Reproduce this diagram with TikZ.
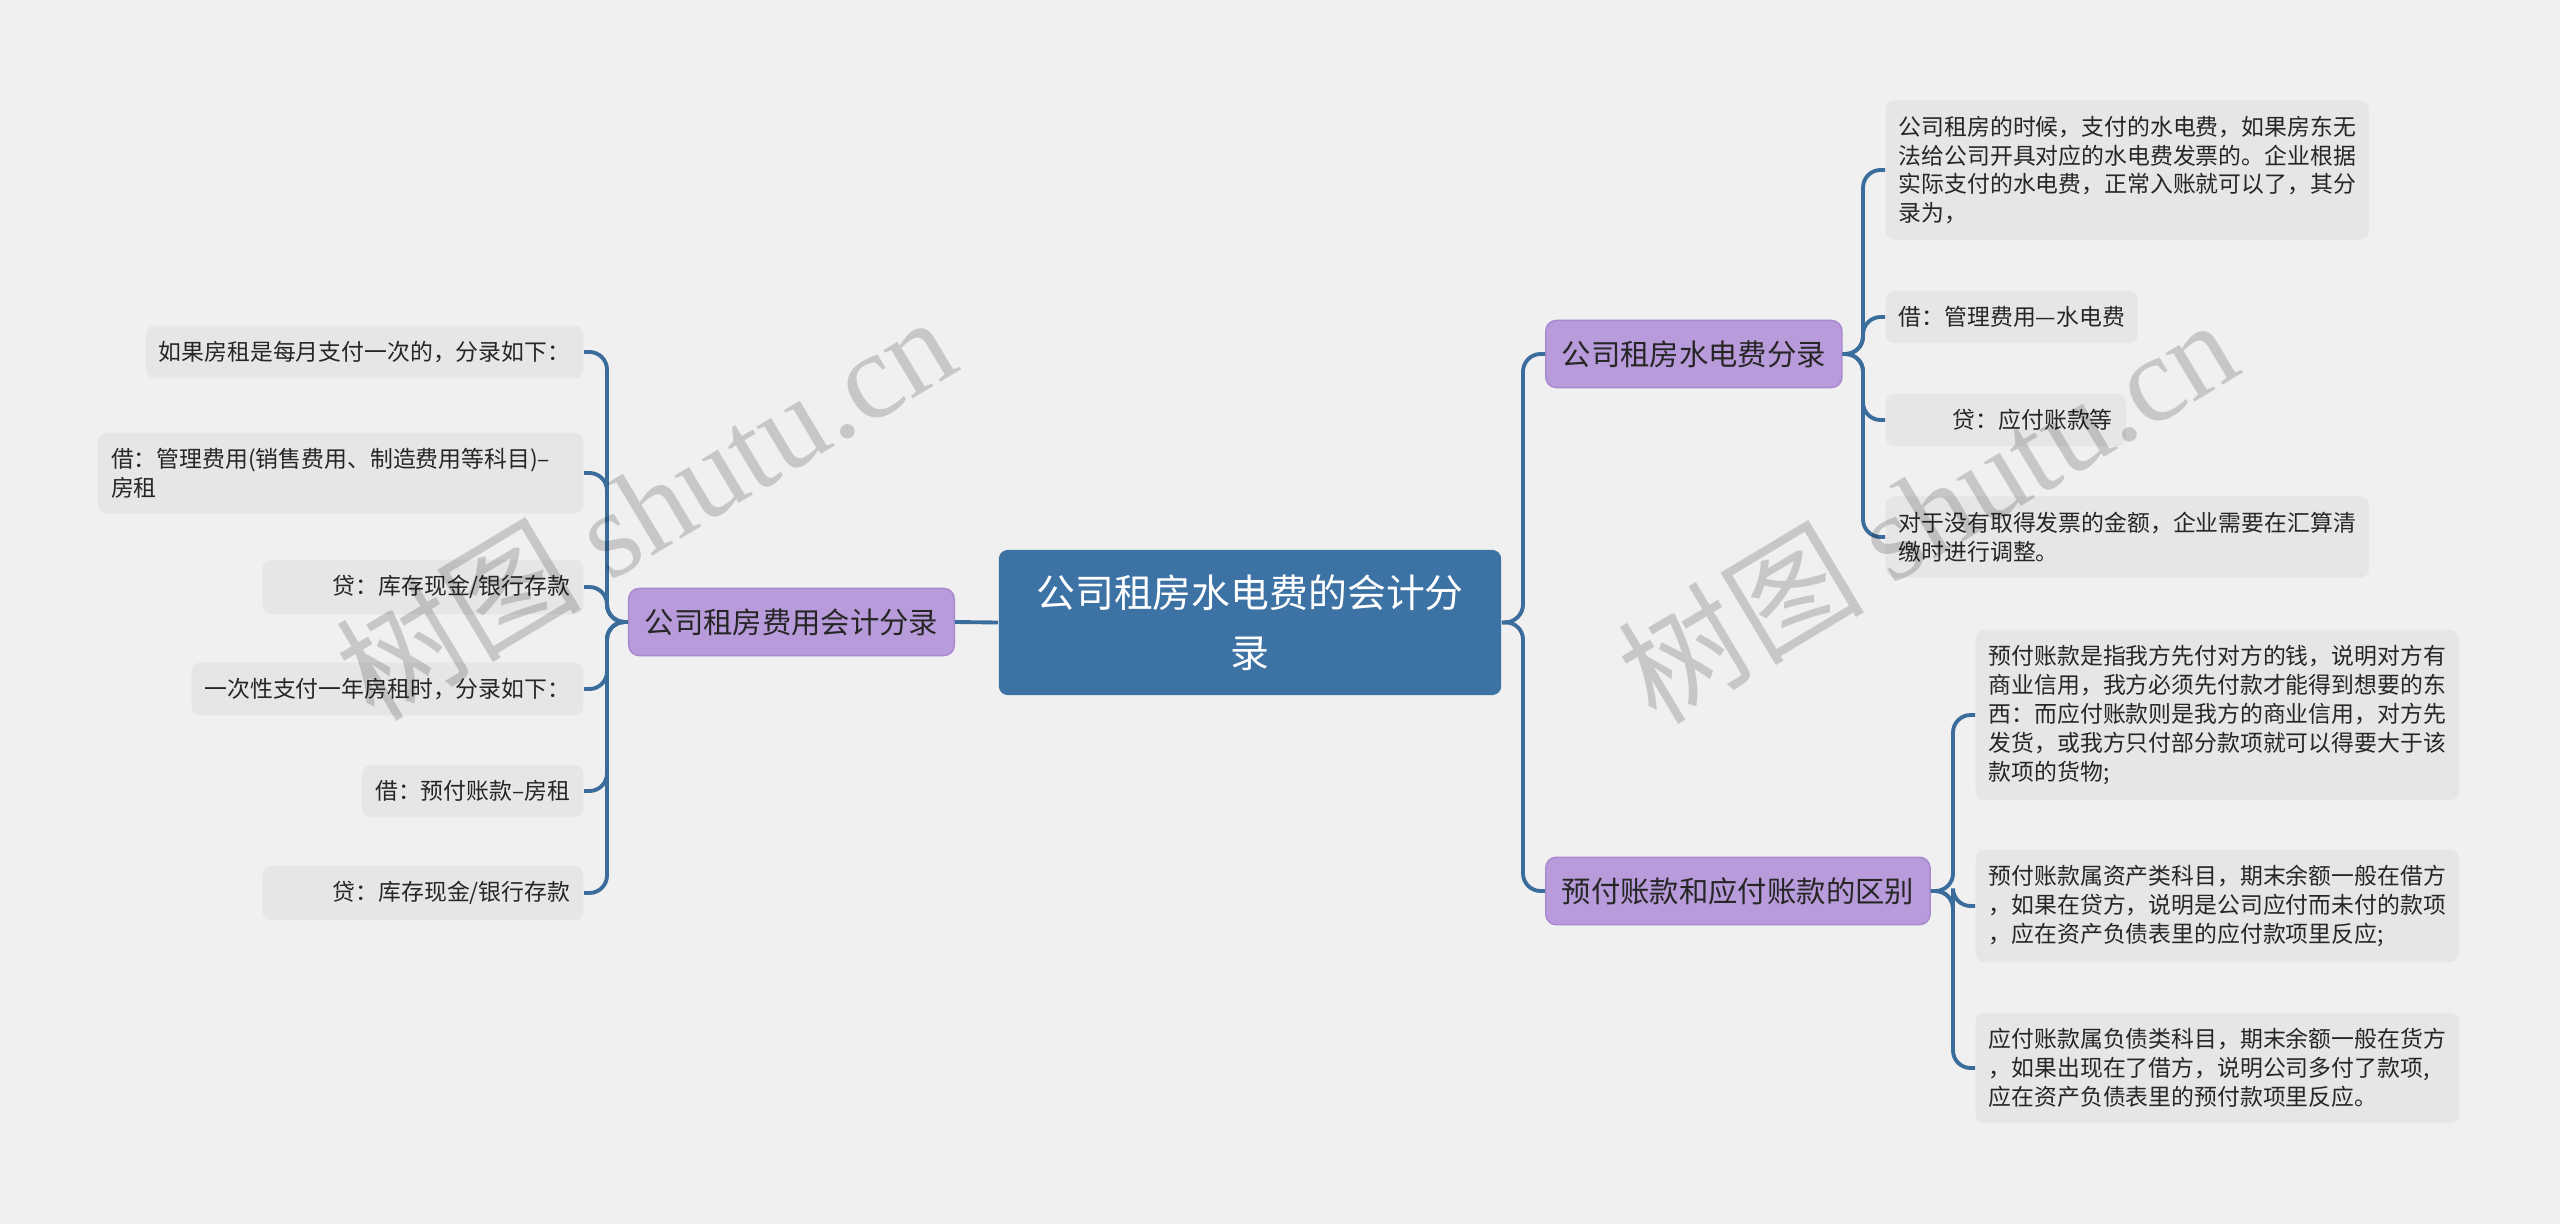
\documentclass[tikz,border=0pt]{standalone}
\usepackage{fontspec}
\setmainfont{Noto Sans CJK SC}
\newfontfamily\wmlatin{Liberation Serif}
\usetikzlibrary{positioning}
\definecolor{bgcol}{HTML}{F0F0F0}
\definecolor{leafcol}{HTML}{E6E6E6}
\definecolor{rootcol}{HTML}{3D72A5}
\definecolor{branchcol}{HTML}{B89BDA}
\definecolor{branchline}{HTML}{A889CF}
\definecolor{linkcol}{HTML}{3B6D9C}
\definecolor{txtcol}{HTML}{262626}

\begin{document}
\begin{tikzpicture}[x=0.01cm,y=-0.01cm,
		leafbox/.style={fill=leafcol,rounded corners=2.5pt,inner xsep=0.13cm,inner ysep=0.155cm,
			align=left,text=txtcol,font=\fontsize{6.5pt}{8.2pt}\selectfont},
		branchbox/.style={fill=branchcol,draw=branchline,line width=0.4pt,rounded corners=3pt,
			inner xsep=0.16cm,inner ysep=0.2cm,text=txtcol,font=\fontsize{8.35pt}{10pt}\selectfont},
		rootbox/.style={fill=rootcol,rounded corners=2.5pt,minimum width=5.02cm,minimum height=1.45cm,
			align=center,text=white,font=\fontsize{11.05pt}{17pt}\selectfont},
		link/.style={draw=linkcol,line width=1.1pt,rounded corners=5pt},
		wmark/.style={text=black,text opacity=0.17,rotate=31,font=\fontsize{35pt}{40pt}\selectfont}]
	\fill[bgcol] (0,0) rectangle (2560,1224);
	\useasboundingbox (0,0) rectangle (2560,1224);

	\node[rootbox] (root) at (1250,622.5) {公司租房水电费的会计分\\录};

	\node[branchbox,anchor=east] (lb) at (955,622) {公司租房费用会计分录};
	\node[branchbox,anchor=west] (rb1) at (1545,354) {公司租房水电费分录};
	\node[branchbox,anchor=west] (rb2) at (1545,891) {预付账款和应付账款的区别};

	\node[leafbox,anchor=east] (l1) at (584,352) {如果房租是每月支付一次的，分录如下：};
	\node[leafbox,anchor=east,text width=4.59cm] (l2) at (584,473) {借：管理费用(销售费用、制造费用等科目)–\\房租};
	\node[leafbox,anchor=east] (l3) at (584,587) {\hspace*{0.57cm}贷：库存现金/银行存款};
	\node[leafbox,anchor=east] (l4) at (584,689) {一次性支付一年房租时，分录如下：};
	\node[leafbox,anchor=east] (l5) at (584,791) {借：预付账款–房租};
	\node[leafbox,anchor=east] (l6) at (584,893) {\hspace*{0.57cm}贷：库存现金/银行存款};

	\node[leafbox,anchor=west] (r1) at (1885,170) {公司租房的时候，支付的水电费，如果房东无\\法给公司开具对应的水电费发票的。企业根据\\实际支付的水电费，正常入账就可以了，其分\\录为，};
	\node[leafbox,anchor=west] (r2) at (1885,317) {借：管理费用—水电费};
	\node[leafbox,anchor=west] (r3) at (1885,420) {\hspace*{0.54cm}贷：应付账款等};
	\node[leafbox,anchor=west] (r4) at (1885,537) {对于没有取得发票的金额，企业需要在汇算清\\缴时进行调整。};

	\node[leafbox,anchor=west] (r5) at (1975,715) {预付账款是指我方先付对方的钱，说明对方有\\商业信用，我方必须先付款才能得到想要的东\\西：而应付账款则是我方的商业信用，对方先\\发货，或我方只付部分款项就可以得要大于该\\款项的货物;};
	\node[leafbox,anchor=west] (r6) at (1975,906) {预付账款属资产类科目，期末余额一般在借方\\，如果在贷方，说明是公司应付而未付的款项\\，应在资产负债表里的应付款项里反应;};
	\node[leafbox,anchor=west] (r7) at (1975,1068) {应付账款属负债类科目，期末余额一般在货方\\，如果出现在了借方，说明公司多付了款项,\\应在资产负债表里的预付款项里反应。};

	\coordinate (rj) at (1523,622);
	\coordinate (lj) at (607,622);
	\coordinate (aj) at (1863,354);
	\coordinate (bj) at (1953,891);

	\draw[link] (root.west) -- (lb.east);
	\foreach \n in {rb1,rb2}
		\draw[link] (root.east) -- (rj) |- (\n.west);
	\foreach \n in {l1,l2,l3,l4,l5,l6}
		\draw[link] (lb.west) -- (lj) |- (\n.east);
	\foreach \n in {r1,r2,r3,r4}
		\draw[link] (rb1.east) -- (aj) |- (\n.west);
	\foreach \n in {r5,r6,r7}
		\draw[link] (rb2.east) -- (bj) |- (\n.west);

	\node[wmark] (wm1) at (645,506) {树图 {\wmlatin shutu.cn}};
	\node[wmark] (wm2) at (1927,509) {树图 {\wmlatin shutu.cn}};
\end{tikzpicture}
\end{document}
